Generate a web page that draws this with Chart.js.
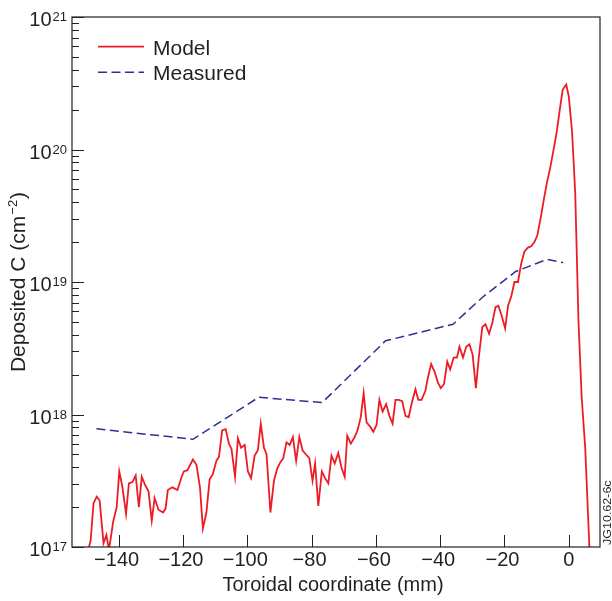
<!DOCTYPE html>
<html><head><meta charset="utf-8">
<script src="https://cdn.jsdelivr.net/npm/chart.js@4.4.0/dist/chart.umd.min.js"></script>
<style>html,body{margin:0;padding:0;background:#fff}#wrap{width:612px;height:601px}</style>
</head><body><div id="wrap"><canvas id="c" width="612" height="601"></canvas></div>
<script>
// ---- data ----
const modelX = [-150.0,-149.2,-148.7,-147.8,-146.8,-145.9,-144.7,-143.8,-143.0,-141.7,-140.6,-139.8,-138.8,-137.7,-136.8,-135.7,-134.7,-133.7,-132.8,-131.8,-130.7,-129.7,-128.8,-127.6,-126.2,-125.4,-124.7,-123.3,-121.7,-120.4,-119.7,-118.6,-116.9,-115.8,-114.7,-113.8,-112.7,-111.7,-110.7,-109.6,-108.8,-107.8,-106.7,-105.7,-104.9,-103.8,-102.9,-101.9,-100.8,-99.8,-98.8,-97.7,-96.7,-95.8,-94.8,-94.0,-92.8,-91.7,-90.7,-89.7,-88.8,-87.8,-86.8,-85.8,-84.8,-83.8,-82.8,-81.8,-80.7,-79.7,-78.9,-77.9,-76.8,-75.8,-74.8,-73.8,-72.8,-71.7,-70.7,-69.7,-68.9,-67.8,-66.8,-65.7,-64.7,-63.8,-62.9,-61.8,-60.8,-59.8,-58.9,-57.9,-56.8,-55.8,-54.8,-53.9,-52.9,-51.8,-50.8,-49.8,-48.8,-47.7,-46.8,-45.8,-44.6,-43.8,-42.8,-41.7,-40.7,-39.8,-38.8,-37.8,-36.9,-35.8,-34.8,-34.0,-32.9,-31.9,-30.9,-29.9,-28.9,-28.0,-26.9,-25.9,-24.8,-23.8,-22.8,-21.9,-20.8,-19.8,-18.9,-17.9,-16.9,-15.8,-14.8,-13.8,-12.7,-11.7,-10.7,-9.8,-8.7,-7.7,-6.8,-5.8,-4.8,-3.7,-2.7,-1.9,-0.8,0.0,1.0,2.0,3.0,4.0,5.1,6.4,7.0];
const modelY = [6.3e16,1.0e17,1.12e17,2.14e17,2.40e17,2.24e17,1.07e17,1.23e17,9.5e16,1.55e17,2.00e17,3.72e17,2.82e17,1.78e17,3.02e17,3.09e17,3.47e17,2.00e17,3.39e17,2.95e17,2.63e17,1.58e17,2.34e17,1.91e17,1.82e17,1.95e17,2.69e17,2.82e17,2.69e17,3.39e17,3.72e17,3.80e17,4.57e17,4.17e17,2.82e17,1.38e17,1.82e17,3.24e17,3.55e17,4.47e17,4.79e17,7.59e17,7.76e17,6.03e17,5.50e17,3.39e17,6.61e17,5.62e17,5.89e17,3.72e17,3.31e17,4.90e17,5.37e17,8.51e17,5.62e17,5.01e17,1.82e17,3.16e17,3.89e17,4.37e17,4.68e17,6.17e17,5.89e17,6.76e17,4.47e17,6.76e17,5.37e17,5.01e17,4.68e17,3.16e17,4.27e17,2.04e17,3.72e17,3.31e17,3.02e17,4.90e17,4.27e17,5.13e17,3.98e17,3.39e17,6.92e17,6.03e17,6.61e17,7.59e17,9.55e17,1.45e18,8.71e17,8.13e17,7.41e17,8.32e17,1.29e18,1.05e18,1.20e18,9.77e17,8.51e17,1.29e18,1.29e18,1.26e18,9.77e17,9.55e17,1.23e18,1.55e18,1.29e18,1.29e18,1.51e18,1.91e18,2.40e18,2.09e18,1.74e18,1.58e18,1.70e18,2.51e18,2.19e18,2.69e18,2.69e18,3.24e18,2.69e18,3.24e18,3.39e18,2.82e18,1.58e18,2.69e18,4.57e18,4.79e18,4.07e18,4.90e18,6.46e18,6.61e18,5.50e18,4.47e18,6.61e18,7.76e18,1.00e19,1.00e19,1.38e19,1.70e19,1.82e19,1.86e19,2.00e19,2.24e19,3.09e19,4.27e19,5.62e19,7.24e19,9.77e19,1.38e20,2.09e20,2.82e20,3.09e20,2.51e20,1.38e20,4.68e19,5.13e18,1.35e18,5.62e17,1.0e17,5.0e16];
const measuredX = [-146.9,-116.9,-96.4,-76.7,-57.0,-36.0,-26.5,-16.5,-6.8,-1.7];
const measuredY = [7.8e17,6.5e17,1.35e18,1.23e18,3.6e18,4.8e18,7.8e18,1.2e19,1.48e19,1.4e19];
const xTickValues = [-140,-120,-100,-80,-60,-40,-20,0];
const yDecades = [17,18,19,20,21];
const seriesNames = ['Model','Measured'];
const xTitle = 'Toroidal coordinate (mm)';
const yTitleMain = 'Deposited C (cm';
const yTitleSup = '\u22122';
const yTitleEnd = ')';
const stampText = 'JG10.62-6c';

const RED = '#ed1c24', BLUE = '#2e3192', INK = '#231f20';
const FONT = '"Liberation Sans", Arial, Helvetica, sans-serif';

function pts(xs, ys){ return xs.map((x,i)=>({x:x, y:ys[i]})); }

const decor = {
  id: 'decor',
  afterDatasetsDraw(chart){
    const {ctx, chartArea:a, scales:{x, y}} = chart;
    ctx.save();
    // frame
    ctx.strokeStyle = INK; ctx.lineWidth = 1.2;
    ctx.strokeRect(a.left, a.top, a.right - a.left, a.bottom - a.top);
    // x ticks (inside)
    ctx.beginPath();
    xTickValues.forEach(v=>{ const px = Math.round(x.getPixelForValue(v))+0.5; ctx.moveTo(px, a.bottom); ctx.lineTo(px, a.bottom-12); });
    // y ticks: majors and minors (inside)
    yDecades.forEach(d=>{
      const py = Math.round(y.getPixelForValue(Math.pow(10,d)))+0.5;
      ctx.moveTo(a.left, py); ctx.lineTo(a.left+12, py);
      if (d < 21) for (let m=2;m<=9;m++){ const q = Math.round(y.getPixelForValue(m*Math.pow(10,d)))+0.5; ctx.moveTo(a.left,q); ctx.lineTo(a.left+7,q); }
    });
    ctx.lineWidth = 1; ctx.stroke();
    // x tick labels
    ctx.fillStyle = INK; ctx.font = '20px ' + FONT; ctx.textAlign = 'center'; ctx.textBaseline = 'alphabetic';
    xTickValues.forEach(v=>{ const lab = v < 0 ? '\u2212' + Math.abs(v) : String(v); ctx.fillText(lab, x.getPixelForValue(v) - (v < 0 ? 2 : 0), a.bottom + 19); });
    // y tick labels 10^n
    yDecades.forEach(d=>{
      const py = y.getPixelForValue(Math.pow(10,d));
      ctx.font = '13px ' + FONT; const sw = ctx.measureText(String(d)).width;
      ctx.textAlign = 'right';
      const right = a.left - 5;
      ctx.fillText(String(d), right, py + 4);
      ctx.font = '20px ' + FONT;
      ctx.fillText('10', right - sw - 1, py + 9);
    });
    // x title
    ctx.font = '20px ' + FONT; ctx.textAlign = 'center';
    ctx.fillText(xTitle, (a.left + a.right)/2 - 3, 591);
    // y title (rotated)
    ctx.save();
    ctx.translate(24.5, (a.top + a.bottom)/2);
    ctx.rotate(-Math.PI/2);
    ctx.font = '21px ' + FONT; const w1 = ctx.measureText(yTitleMain).width;
    ctx.font = '13px ' + FONT; const w2 = ctx.measureText(yTitleSup).width;
    ctx.font = '21px ' + FONT; const w3 = ctx.measureText(yTitleEnd).width;
    let sx = -(w1 + w2 + w3 + 2)/2;
    ctx.textAlign = 'left';
    ctx.font = '21px ' + FONT; ctx.fillText(yTitleMain, sx, 0); sx += w1 + 1;
    ctx.font = '13px ' + FONT; ctx.fillText(yTitleSup, sx, -8); sx += w2 + 1;
    ctx.font = '21px ' + FONT; ctx.fillText(yTitleEnd, sx, 0);
    ctx.restore();
    // legend
    const ds = chart.data.datasets;
    [46.7, 72.3].forEach((ly, i)=>{
      ctx.beginPath();
      ctx.strokeStyle = ds[i].borderColor; ctx.lineWidth = ds[i].borderWidth;
      ctx.setLineDash(ds[i].borderDash || []);
      ctx.moveTo(98, ly); ctx.lineTo(144, ly); ctx.stroke();
      ctx.setLineDash([]);
      ctx.fillStyle = INK; ctx.font = '21px ' + FONT; ctx.textAlign = 'left';
      ctx.fillText(ds[i].label, 153, ly + 8);
    });
    // stamp
    ctx.save();
    ctx.translate(611, 545); ctx.rotate(-Math.PI/2);
    ctx.font = '10px ' + FONT; ctx.fillStyle = INK; ctx.textAlign = 'left';
    ctx.scale(1.25, 1);
    ctx.fillText(stampText, 0, 0);
    ctx.restore();
    ctx.restore();
  }
};

new Chart(document.getElementById('c'), {
  type: 'scatter',
  data: { datasets: [
    { label: seriesNames[0], data: pts(modelX, modelY), showLine: true, borderColor: RED, backgroundColor: RED, borderWidth: 1.8, pointRadius: 0, tension: 0, clip: 0 },
    { label: seriesNames[1], data: pts(measuredX, measuredY), showLine: true, borderColor: BLUE, backgroundColor: BLUE, borderWidth: 1.5, borderDash: [9, 4.5], pointRadius: 0, tension: 0, clip: 0 }
  ]},
  options: {
    responsive: false, animation: false, devicePixelRatio: 1,
    layout: { padding: { left: 0, right: 12, top: 17, bottom: 0 } },
    plugins: { legend: { display: false }, tooltip: { enabled: false } },
    scales: {
      x: { type: 'linear', min: -154.5, max: 9.7, ticks: { display: false }, grid: { display: false }, border: { display: false },
           afterFit(s){ s.height = 54; } },
      y: { type: 'logarithmic', min: 1e17, max: 1e21, ticks: { display: false }, grid: { display: false }, border: { display: false },
           afterFit(s){ s.width = 72; } }
    }
  },
  plugins: [decor]
});
</script>
</body></html>
